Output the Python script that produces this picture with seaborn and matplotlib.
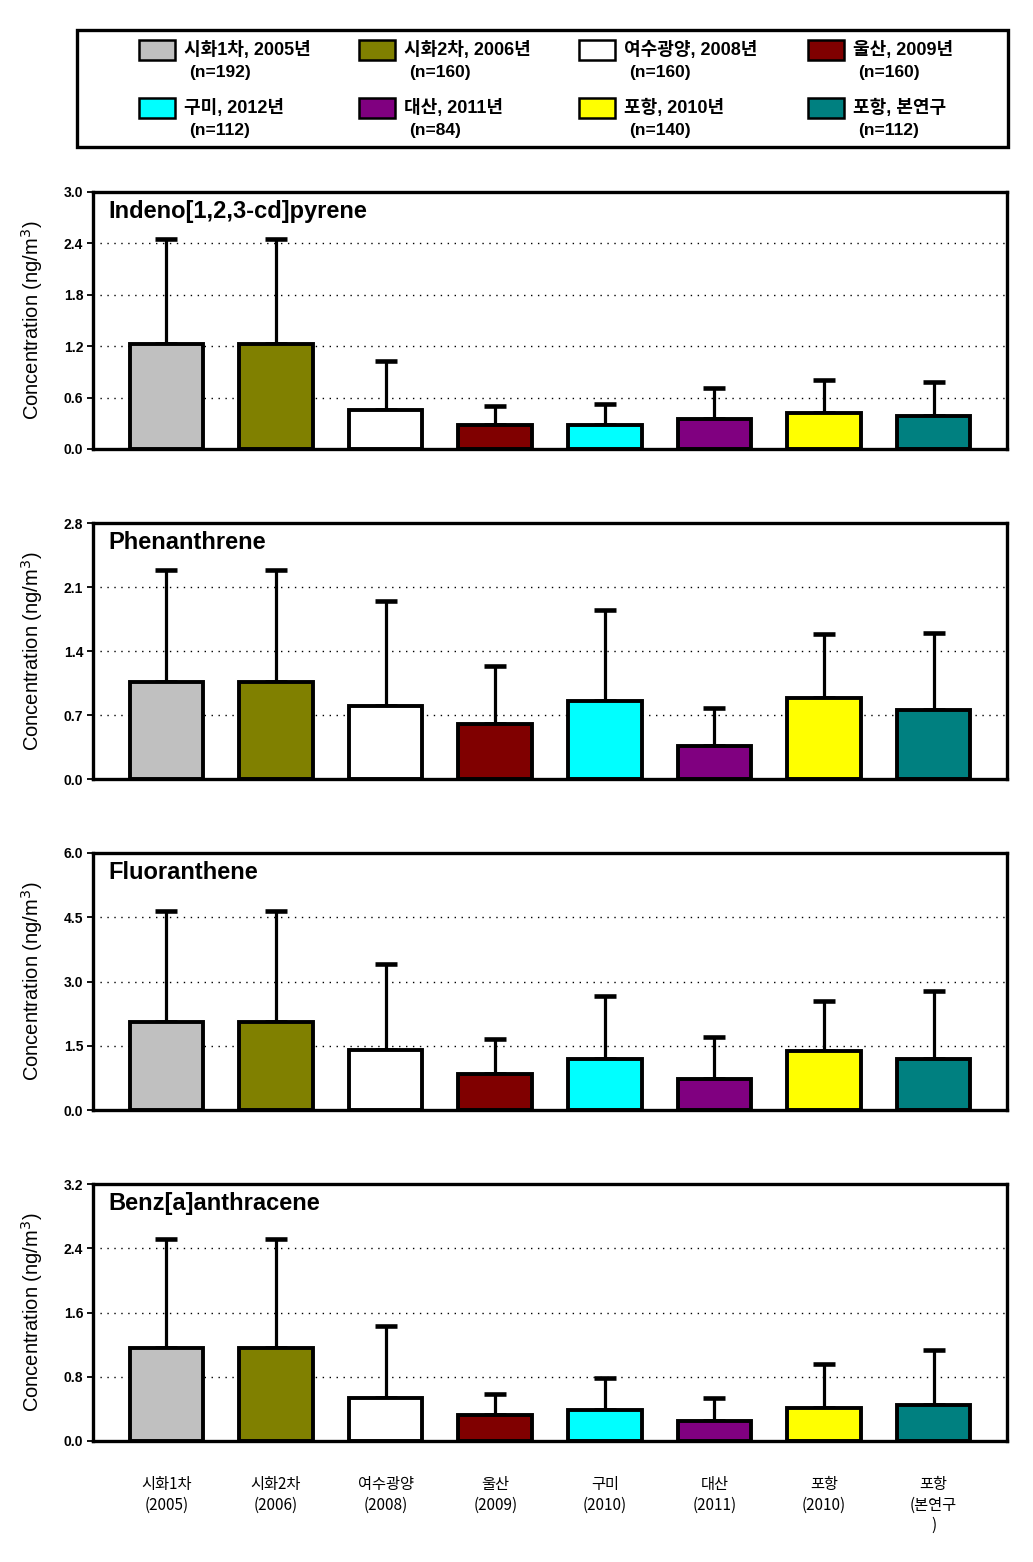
import numpy as np
import pandas as pd
import matplotlib
matplotlib.use("Agg")
import matplotlib.pyplot as plt
from matplotlib.patches import Rectangle
import seaborn as sns

# ---------------- data ----------------
categories = ["시화1차", "시화2차", "여수광양", "울산", "구미", "대산", "포항2010", "포항본연구"]
tick_labels = ["시화1차\n(2005)", "시화2차\n(2006)", "여수광양\n(2008)", "울산\n(2009)",
               "구미\n(2010)", "대산\n(2011)", "포항\n(2010)", "포항\n(본연구\n)"]
legend_names = ["시화1차, 2005년", "시화2차, 2006년", "여수광양, 2008년", "울산, 2009년",
                "구미, 2012년", "대산, 2011년", "포항, 2010년", "포항, 본연구"]
legend_n = ["(n=192)", "(n=160)", "(n=160)", "(n=160)",
            "(n=112)", "(n=84)", "(n=140)", "(n=112)"]
colors = ["#C0C0C0", "#808000", "#FFFFFF", "#800000",
          "#00FFFF", "#800080", "#FFFF00", "#008080"]

compounds = ["Indeno[1,2,3-cd]pyrene", "Phenanthrene", "Fluoranthene", "Benz[a]anthracene"]

indeno_mean = [1.23, 1.23, 0.46, 0.275, 0.285, 0.355, 0.415, 0.39]
indeno_upper = [2.455, 2.455, 1.03, 0.505, 0.53, 0.715, 0.81, 0.785]

phen_mean = [1.065, 1.065, 0.80, 0.605, 0.85, 0.36, 0.885, 0.76]
phen_upper = [2.29, 2.29, 1.95, 1.24, 1.85, 0.775, 1.59, 1.60]

fluor_mean = [2.06, 2.06, 1.40, 0.83, 1.20, 0.73, 1.37, 1.18]
fluor_upper = [4.65, 4.65, 3.40, 1.65, 2.67, 1.705, 2.55, 2.77]

benz_mean = [1.155, 1.155, 0.533, 0.32, 0.383, 0.245, 0.41, 0.445]
benz_upper = [2.52, 2.52, 1.43, 0.59, 0.78, 0.54, 0.96, 1.135]

means = [indeno_mean, phen_mean, fluor_mean, benz_mean]
uppers = [indeno_upper, phen_upper, fluor_upper, benz_upper]
y_max = [3.0, 2.8, 6.0, 3.2]
y_step = [0.6, 0.7, 1.5, 0.8]

# ---------------- style ----------------
sns.set_style("white")
plt.rcParams["font.family"] = ["Liberation Sans", "Noto Sans CJK KR"]
plt.rcParams["axes.unicode_minus"] = False
plt.rcParams["text.color"] = "black"
plt.rcParams["axes.labelcolor"] = "black"
plt.rcParams["xtick.color"] = "black"
plt.rcParams["ytick.color"] = "black"

W, H = 1033, 1562
fig = plt.figure(figsize=(W / 100, H / 100), dpi=100)


def fx(x):
    return x / W


def fy(y):
    return 1 - y / H


panel_px = [(192, 449), (523, 779), (853, 1110), (1184, 1441)]
ax_left, ax_right = 93, 1007

axes = []
for k, (top, bot) in enumerate(panel_px):
    ax = fig.add_axes([fx(ax_left), fy(bot), fx(ax_right - ax_left), (bot - top) / H])
    df = pd.DataFrame({"cat": categories, "val": means[k]})
    sns.barplot(data=df, x="cat", y="val", hue="cat", palette=colors, order=categories,
                hue_order=categories, legend=False, width=0.67, edgecolor="black",
                linewidth=2.8, errorbar=None, saturation=1, ax=ax, zorder=2)
    xs = np.arange(len(categories))
    m = np.array(means[k])
    up = np.array(uppers[k]) - m
    ax.errorbar(xs, m, yerr=[np.zeros_like(m), up], fmt="none", ecolor="black",
                elinewidth=2.3, capsize=7.7, capthick=3.3, zorder=1.5)
    ax.set_xlim(-0.67, len(categories) - 1 + 0.67)
    ax.set_ylim(0, y_max[k])
    ticks = np.round(np.arange(0, y_max[k] + 1e-9, y_step[k]), 2)
    ax.set_yticks(ticks)
    ax.set_yticklabels([f"{t:.1f}" for t in ticks], fontsize=10, fontweight="bold",
                       color="black")
    ax.yaxis.grid(True, linestyle=(0, (1, 4)), color="black", linewidth=1.0)
    ax.set_axisbelow(True)
    ax.tick_params(axis="y", left=True, length=4, width=1.3, pad=3, colors="black")
    for s in ax.spines.values():
        s.set_linewidth(2.4)
        s.set_color("black")
        s.set_visible(True)
    ax.set_ylabel("Concentration (ng/m$^3$)", fontsize=14.5, color="black")
    ax.yaxis.set_label_coords(-0.052, 0.5)
    ax.set_xlabel("")
    ax.text(0.0165, 0.925, compounds[k], transform=ax.transAxes, fontsize=17,
            fontweight="bold", va="center", ha="left", color="black")
    if k < 3:
        ax.set_xticks(xs)
        ax.set_xticklabels([])
        ax.tick_params(axis="x", bottom=False)
    else:
        ax.set_xticks(xs)
        ax.set_xticklabels(tick_labels, fontsize=11, linespacing=1.25,
                           family=["Noto Sans CJK KR"], color="black")
        ax.tick_params(axis="x", bottom=False, pad=22)
    axes.append(ax)

# ---------------- legend box ----------------
box = Rectangle((fx(77), fy(147)), fx(1008 - 77), (147 - 30) / H, transform=fig.transFigure,
                fill=False, edgecolor="black", linewidth=2.4)
fig.add_artist(box)
col_x = [139, 359, 579, 808]
row_y = [40, 98]
for i, (name, nn, c) in enumerate(zip(legend_names, legend_n, colors)):
    r, cidx = divmod(i, 4)
    x0 = col_x[cidx]
    y0 = row_y[r]
    fig.add_artist(Rectangle((fx(x0), fy(y0 + 20)), fx(36), 20 / H, transform=fig.transFigure,
                             facecolor=c, edgecolor="black", linewidth=1.8))
    fig.text(fx(x0 + 45), fy(y0 + 10), name, fontsize=13, fontweight="bold",
             va="center", ha="left", color="black")
    fig.text(fx(x0 + 50), fy(y0 + 32), nn, fontsize=12.5, fontweight="bold",
             va="center", ha="left", color="black")

fig.savefig("out.png", dpi=100)
